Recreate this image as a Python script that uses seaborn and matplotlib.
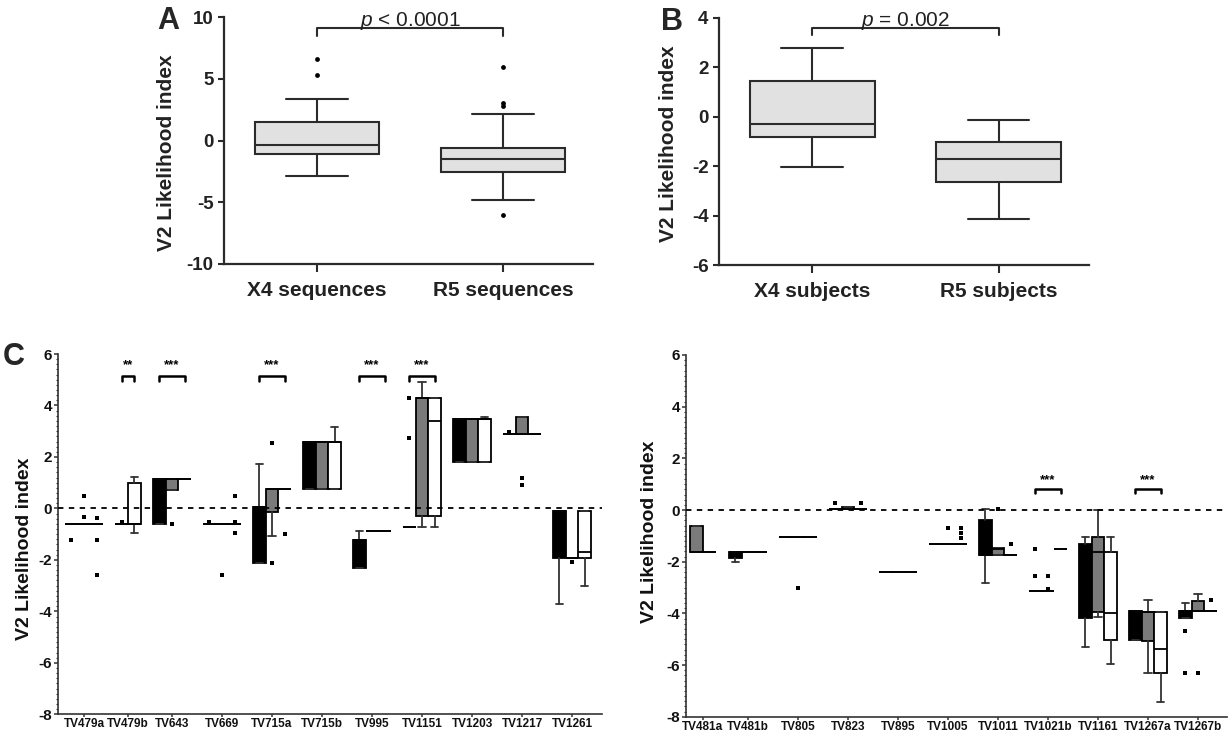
import numpy as np
import pandas as pd
import matplotlib
matplotlib.use("Agg")
import matplotlib.pyplot as plt
import seaborn as sns
from matplotlib.ticker import MultipleLocator

# ---------------- data: panel A ----------------
a_groups = ["X4 sequences", "R5 sequences"]
a_whislo = [-2.85, -4.85]
a_q1 = [-1.06, -2.58]
a_med = [-0.37, -1.5]
a_q3 = [1.46, -0.62]
a_whishi = [3.36, 2.17]
a_flier_group = [0, 0, 1, 1, 1, 1]
a_flier_val = [5.28, 6.57, 2.82, 3.0, 5.98, -6.05]
a_yticks = [-10, -5, 0, 5, 10]
a_ptext = "< 0.0001"

# ---------------- data: panel B ----------------
b_groups = ["X4 subjects", "R5 subjects"]
b_whislo = [-2.04, -4.12]
b_q1 = [-0.82, -2.62]
b_med = [-0.29, -1.69]
b_q3 = [1.44, -1.03]
b_whishi = [2.77, -0.11]
b_yticks = [-6, -4, -2, 0, 2, 4]
b_ptext = "= 0.002"

# ---------------- data: panel C (left) ----------------
# each entry: (whisker low, q1, median, q3, whisker high) or None
c1_cats = ["TV479a", "TV479b", "TV643", "TV669", "TV715a", "TV715b",
           "TV995", "TV1151", "TV1203", "TV1217", "TV1261"]
c1_early = [(-0.6, -0.6, -0.6, -0.6, -0.6), None,
            (-0.6, -0.6, 1.13, 1.13, 1.13), (-0.6, -0.6, -0.6, -0.6, -0.6),
            (-2.14, -2.14, 0.06, 0.06, 1.72), (0.75, 0.75, 2.57, 2.57, 2.57),
            (-2.3, -2.3, -1.23, -1.23, -0.88), (-0.72, -0.72, -0.72, -0.72, -0.72),
            (1.81, 1.81, 3.47, 3.47, 3.47), (2.89, 2.89, 2.89, 2.89, 2.89),
            (-3.7, -1.91, -0.09, -0.09, -0.09)]
c1_mid = [(-0.6, -0.6, -0.6, -0.6, -0.6), (-0.6, -0.6, -0.6, -0.6, -0.6),
          (0.71, 0.71, 1.13, 1.13, 1.13), (-0.6, -0.6, -0.6, -0.6, -0.6),
          (-1.08, -0.13, 0.75, 0.75, 0.75), (0.75, 0.75, 2.57, 2.57, 2.57),
          (-0.88, -0.88, -0.88, -0.88, -0.88), (-0.72, -0.29, 4.28, 4.28, 4.92),
          (1.81, 1.81, 3.47, 3.47, 3.47), (2.89, 2.89, 2.89, 3.56, 3.56),
          (-1.91, -1.91, -1.91, -1.91, -1.91)]
c1_late = [(-0.6, -0.6, -0.6, -0.6, -0.6), (-0.95, -0.6, -0.6, 0.97, 1.23),
           (1.13, 1.13, 1.13, 1.13, 1.13), (-0.6, -0.6, -0.6, -0.6, -0.6),
           (0.75, 0.75, 0.75, 0.75, 0.75), (0.75, 0.75, 2.57, 2.57, 3.17),
           (-0.88, -0.88, -0.88, -0.88, -0.88), (-0.72, -0.29, 3.4, 4.28, 4.28),
           (1.81, 1.81, 3.47, 3.47, 3.56), (2.89, 2.89, 2.89, 2.89, 2.89),
           (-3.01, -1.91, -1.71, -0.09, -0.09)]
c1_flier_cat = ["TV479a", "TV479a", "TV479a", "TV479a", "TV479a", "TV479a",
                "TV479b", "TV643",
                "TV669", "TV669", "TV669", "TV669", "TV669",
                "TV715a", "TV715a", "TV715a",
                "TV1151", "TV1151",
                "TV1217", "TV1217", "TV1217",
                "TV1261"]
c1_flier_tp = [0, 1, 1, 2, 2, 2,
               1, 1,
               0, 1, 2, 2, 2,
               1, 1, 2,
               0, 0,
               0, 1, 1,
               1]
c1_flier_val = [-1.21, 0.5, -0.33, -0.37, -1.21, -2.59,
                -0.52, -0.6,
                -0.52, -2.59, 0.49, -0.52, -0.97,
                2.55, -2.13, -1.0,
                4.28, 2.72,
                2.97, 1.19, 0.91,
                -2.1]
c1_sig_cat = ["TV479b", "TV643", "TV715a", "TV995", "TV1151"]
c1_sig_from = [1, 0, 0, 0, 0]
c1_sig_to = [2, 2, 2, 2, 2]
c1_sig_label = ["**", "***", "***", "***", "***"]

# ---------------- data: panel C (right) ----------------
c2_cats = ["TV481a", "TV481b", "TV805", "TV823", "TV895", "TV1005",
           "TV1011", "TV1021b", "TV1161", "TV1267a", "TV1267b"]
c2_early = [None, (-2.03, -1.85, -1.62, -1.62, -1.62),
            (-1.06, -1.06, -1.06, -1.06, -1.06), (0.03, 0.03, 0.03, 0.03, 0.03),
            (-2.41, -2.41, -2.41, -2.41, -2.41), (-1.33, -1.33, -1.33, -1.33, -1.33),
            (-2.84, -1.74, -1.74, -0.39, 0.03), (-3.12, -3.12, -3.12, -3.12, -3.12),
            (-5.31, -4.19, -2.5, -1.32, -1.04), (-5.03, -5.03, -3.91, -3.91, -3.91),
            (-4.19, -4.19, -3.91, -3.91, -3.59)]
c2_mid = [(-1.62, -1.62, -1.62, -0.62, -0.62), (-1.62, -1.62, -1.62, -1.62, -1.62),
          (-1.06, -1.06, -1.06, -1.06, -1.06), (0.03, 0.03, 0.03, 0.12, 0.12),
          (-2.41, -2.41, -2.41, -2.41, -2.41), (-1.33, -1.33, -1.33, -1.33, -1.33),
          (-1.74, -1.74, -1.5, -1.46, -1.46), (-3.12, -3.12, -3.12, -3.12, -3.12),
          (-4.16, -3.93, -1.61, -1.04, 0.0), (-6.32, -5.06, -3.93, -3.93, -3.48),
          (-3.91, -3.91, -3.91, -3.51, -3.25)]
c2_late = [(-1.62, -1.62, -1.62, -1.62, -1.62), (-1.62, -1.62, -1.62, -1.62, -1.62),
           (-1.06, -1.06, -1.06, -1.06, -1.06), (0.03, 0.03, 0.03, 0.03, 0.03),
           (-2.41, -2.41, -2.41, -2.41, -2.41), (-1.33, -1.33, -1.33, -1.33, -1.33),
           (-1.74, -1.74, -1.74, -1.74, -1.74), (-1.52, -1.52, -1.52, -1.52, -1.52),
           (-5.96, -5.03, -4.0, -1.61, -1.04), (-7.42, -6.32, -5.38, -3.95, -3.95),
           (-3.91, -3.91, -3.91, -3.91, -3.91)]
c2_flier_cat = ["TV805", "TV823", "TV823",
                "TV1005", "TV1005", "TV1005", "TV1005",
                "TV1011", "TV1011",
                "TV1021b", "TV1021b", "TV1021b", "TV1021b",
                "TV1267b", "TV1267b", "TV1267b", "TV1267b"]
c2_flier_tp = [1, 0, 2,
               1, 2, 2, 2,
               1, 2,
               0, 0, 1, 1,
               0, 0, 1, 2]
c2_flier_val = [-3.03, 0.28, 0.28,
                -0.68, -0.68, -0.88, -1.07,
                0.05, -1.33,
                -1.52, -2.54, -2.54, -3.05,
                -4.68, -6.32, -6.32, -3.48]
c2_sig_cat = ["TV1021b", "TV1267a"]
c2_sig_from = [0, 0]
c2_sig_to = [2, 2]
c2_sig_label = ["***", "***"]

c_yticks = [-8, -6, -4, -2, 0, 2, 4, 6]

# ---------------- style ----------------
sns.set_theme(style="ticks")
plt.rcParams['font.family'] = ['Liberation Sans', 'DejaVu Sans']
plt.rcParams['mathtext.fontset'] = 'custom'
plt.rcParams['mathtext.rm'] = 'Liberation Sans'
plt.rcParams['mathtext.it'] = 'Liberation Sans:italic'

INK = '#2b2b2b'
W, H = 1231, 738
fig = plt.figure(figsize=(W / 100, H / 100), dpi=100)


def frame(l, t, r, b):
    return [l / W, 1 - b / H, (r - l) / W, (b - t) / H]


axA = fig.add_axes(frame(224, 17, 593, 264))
axB = fig.add_axes(frame(719, 18, 1089, 265))
axC1 = fig.add_axes(frame(58, 354, 602, 714.3))
axC2 = fig.add_axes(frame(686, 355, 1227, 716.7))


def draw_ab(ax, groups, lo, q1, med, q3, hi, fl_g, fl_v, yticks, ptext,
            br_top, br_leg, p_y, label_xy):
    stats = [dict(whislo=lo[i], q1=q1[i], med=med[i], q3=q3[i], whishi=hi[i], fliers=[])
             for i in range(len(groups))]
    pos = [1, 2]
    ax.bxp(stats, positions=pos, widths=0.67, capwidths=0.33, patch_artist=True,
           showfliers=False, manage_ticks=False,
           boxprops=dict(facecolor='#e1e1e1', edgecolor=INK, linewidth=1.5),
           medianprops=dict(color=INK, linewidth=1.5),
           whiskerprops=dict(color=INK, linewidth=1.5),
           capprops=dict(color=INK, linewidth=1.5))
    if fl_v:
        df = pd.DataFrame({'x': [pos[g] for g in fl_g], 'y': fl_v})
        sns.scatterplot(data=df, x='x', y='y', ax=ax, color='black', s=12,
                        linewidth=0, legend=False, zorder=3)
    ax.set_xlim(0.5, 2.485)
    ax.set_ylim(yticks[0], yticks[-1])
    ax.set_xticks(pos)
    ax.set_xticklabels(groups, fontsize=15, fontweight='bold', color='#222222')
    ax.set_yticks(yticks)
    ax.set_yticklabels([str(t) for t in yticks], fontsize=13.5, fontweight='bold', color='#222222')
    ax.tick_params(axis='y', length=4.5, width=1.5, color=INK, pad=3)
    ax.tick_params(axis='x', length=6, width=1.5, color=INK, pad=6)
    for s in ['top', 'right']:
        ax.spines[s].set_visible(False)
    for s in ['left', 'bottom']:
        ax.spines[s].set_linewidth(1.6)
        ax.spines[s].set_color(INK)
    ax.set_xlabel('')
    ax.set_ylabel('V2 Likelihood index', fontsize=15, fontweight='bold', color='#222222')
    ax.yaxis.set_label_coords(*label_xy)
    ax.plot([1, 1, 2, 2], [br_leg, br_top, br_top, br_leg], color=INK, lw=1.5, clip_on=False)
    ax.text(1.5, p_y, r"$\mathit{p}$ " + ptext, ha='center', va='baseline',
            fontsize=15, color='#222222')


draw_ab(axA, a_groups, a_whislo, a_q1, a_med, a_q3, a_whishi,
        a_flier_group, a_flier_val, a_yticks, a_ptext, 9.08, 8.5, 9.3, (-0.13, 0.45))
draw_ab(axB, b_groups, b_whislo, b_q1, b_med, b_q3, b_whishi,
        [], [], b_yticks, b_ptext, 3.58, 3.33, 3.69, (-0.112, 0.49))

SLOT = 0.255
C_COLORS = ['black', '#7a7a7a', 'white']


def draw_c(ax, cats, early, mid, late, f_cat, f_tp, f_val,
           s_cat, s_from, s_to, s_lab, positions, xlim, br_top, br_leg, txt_y, label_xy):
    series = [early, mid, late]
    slot_x = {}
    for i, cat in enumerate(cats):
        present = [k for k in range(3) if series[k][i] is not None]
        n = len(present)
        for j, k in enumerate(present):
            x = positions[i] + (j - (n - 1) / 2) * SLOT
            slot_x[(cat, k)] = x
            lo, q1, md, q3, hi = series[k][i]
            ax.bxp([dict(whislo=lo, q1=q1, med=md, q3=q3, whishi=hi, fliers=[])],
                   positions=[x], widths=SLOT, capwidths=SLOT * 0.55, patch_artist=True,
                   showfliers=False, manage_ticks=False,
                   boxprops=dict(facecolor=C_COLORS[k], edgecolor='black', linewidth=1.3),
                   medianprops=dict(color='black', linewidth=1.3),
                   whiskerprops=dict(color='#333333', linewidth=1.3),
                   capprops=dict(color='#333333', linewidth=1.3))
    df = pd.DataFrame({'x': [slot_x[(c, k)] for c, k in zip(f_cat, f_tp)], 'y': f_val})
    sns.scatterplot(data=df, x='x', y='y', ax=ax, color='black', s=5, marker='s',
                    linewidth=0, legend=False, zorder=3)
    ax.axhline(0, color='black', lw=1.3, ls=(0, (3, 3)), zorder=4)
    for c, a, b, lab in zip(s_cat, s_from, s_to, s_lab):
        x0, x1 = slot_x[(c, a)], slot_x[(c, b)]
        ax.plot([x0, x0, x1, x1], [br_leg, br_top, br_top, br_leg], color='black',
                lw=1.8, clip_on=False, zorder=5)
        ax.text((x0 + x1) / 2, txt_y, lab, ha='center', va='center',
                fontsize=9.5, fontweight='bold', color='black')
    ax.set_xlim(*xlim)
    ax.set_ylim(-8, 6)
    ax.set_xticks(positions)
    ax.set_xticklabels(cats, fontsize=8.5, fontweight='bold', color='#111111')
    ax.set_yticks(c_yticks)
    ax.set_yticklabels([str(t) for t in c_yticks], fontsize=11, fontweight='bold', color='#111111')
    ax.yaxis.set_minor_locator(MultipleLocator(0.2))
    ax.tick_params(axis='y', which='major', length=3, width=1.1, color='#333333', pad=1.5)
    ax.tick_params(axis='y', which='minor', length=1.8, width=0.8, color='#333333', left=True)
    ax.tick_params(axis='x', length=2.5, width=1.1, color='#333333', pad=0.5)
    for s in ['top', 'right']:
        ax.spines[s].set_visible(False)
    for s in ['left', 'bottom']:
        ax.spines[s].set_linewidth(1.2)
        ax.spines[s].set_color('#333333')
    ax.set_xlabel('')
    ax.set_ylabel('V2 Likelihood index', fontsize=14, fontweight='bold', color='#111111')
    ax.yaxis.set_label_coords(*label_xy)


c1_positions = [0, 0.88, 1.76, 2.76, 3.76, 4.76, 5.76, 6.76, 7.76, 8.76, 9.76]
c2_positions = [0, 0.9, 1.9, 2.9, 3.9, 4.9, 5.9, 6.9, 7.9, 8.9, 9.9]

draw_c(axC1, c1_cats, c1_early, c1_mid, c1_late, c1_flier_cat, c1_flier_tp, c1_flier_val,
       c1_sig_cat, c1_sig_from, c1_sig_to, c1_sig_label, c1_positions, (-0.52, 10.36),
       5.15, 4.97, 5.55, (-0.046, 0.46))
draw_c(axC2, c2_cats, c2_early, c2_mid, c2_late, c2_flier_cat, c2_flier_tp, c2_flier_val,
       c2_sig_cat, c2_sig_from, c2_sig_to, c2_sig_label, c2_positions, (-0.34, 10.48),
       0.81, 0.65, 1.15, (-0.052, 0.51))

# panel letters
fig.text(168 / W, 1 - 21 / H, 'A', fontsize=22, fontweight='bold', ha='center', va='center')
fig.text(672 / W, 1 - 22 / H, 'B', fontsize=22, fontweight='bold', ha='center', va='center')
fig.text(14 / W, 1 - 357 / H, 'C', fontsize=22, fontweight='bold', ha='center', va='center')

fig.savefig('out.png', dpi=100)
